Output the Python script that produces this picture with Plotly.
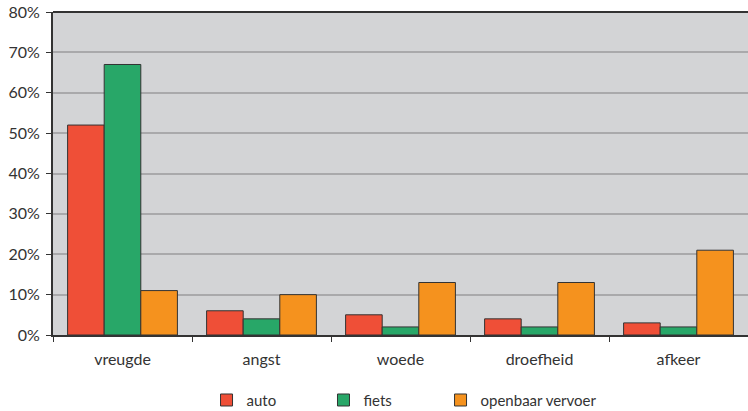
import plotly.graph_objects as go

categories = ["vreugde", "angst", "woede", "droefheid", "afkeer"]
auto = [52, 6, 5, 4, 3]
fiets = [67, 4, 2, 2, 2]
ov = [11, 10, 13, 13, 21]
series_names = ["auto", "fiets", "openbaar vervoer"]
colors = ["#EF4F37", "#28A768", "#F5921E"]
y_ticks = [0, 10, 20, 30, 40, 50, 60, 70, 80]
y_labels = [f"{v}%" for v in y_ticks]

FONT = "Lato"
legend_ids = ["legend", "legend2", "legend3"]
legend_x = [0.2209, 0.3892, 0.5576]

fig = go.Figure()
for name, vals, col, lid in zip(series_names, [auto, fiets, ov], colors, legend_ids):
    fig.add_trace(go.Bar(
        x=categories, y=vals, name=name, legend=lid,
        marker=dict(color=col, line=dict(color="#333333", width=1)),
    ))

legend_common = dict(
    orientation="h",
    xanchor="left",
    y=-0.202, yanchor="middle",
    font=dict(family=FONT, size=15, color="#333333"),
    bgcolor="rgba(0,0,0,0)",
)

fig.update_layout(
    width=748, height=411,
    margin=dict(l=53, r=0, t=12, b=76, autoexpand=False),
    paper_bgcolor="white",
    plot_bgcolor="#D3D4D6",
    barmode="group",
    bargap=0.21,
    bargroupgap=0,
    font=dict(family=FONT, size=15, color="#333333"),
    showlegend=True,
    legend=dict(x=legend_x[0], **legend_common),
    legend2=dict(x=legend_x[1], **legend_common),
    legend3=dict(x=legend_x[2], **legend_common),
    xaxis=dict(
        automargin=False,
        showline=True, linecolor="#333333", linewidth=2,
        ticks="outside", tickson="boundaries", ticklen=5,
        tickcolor="#333333", tickwidth=1,
        ticklabelstandoff=9,
        tickfont=dict(size=16),
        showgrid=False,
        mirror=False,
    ),
    yaxis=dict(
        automargin=False,
        range=[0, 80],
        tickvals=y_ticks, ticktext=y_labels,
        showline=True, linecolor="#333333", linewidth=2,
        ticks="outside", ticklen=5, tickcolor="#333333", tickwidth=1,
        showgrid=True, gridcolor="#A9A9AB", gridwidth=1.5,
        zeroline=False,
        ticklabelstandoff=3,
        tickfont=dict(size=16),
    ),
)

fig.add_shape(type="line", xref="paper", yref="paper", x0=0, x1=1, y0=1, y1=1,
              line=dict(color="#333333", width=2))

fig.write_html(
    "out.html",
    config={"displayModeBar": False},
    post_script="document.body.style.margin='0';document.body.style.overflow='hidden';",
)
